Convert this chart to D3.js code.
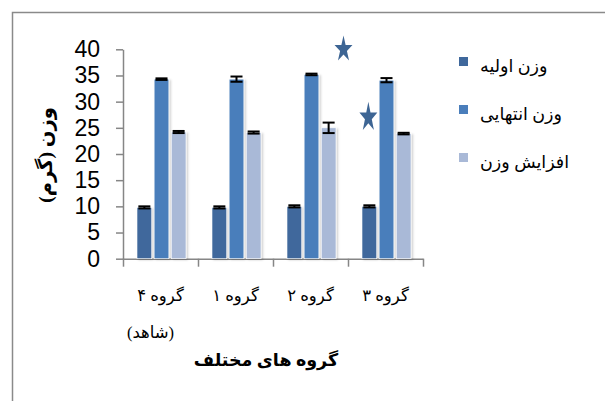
<!DOCTYPE html>
<html lang="fa">
  <head>
    <meta charset="utf-8">
    <script type="text/javascript" src="https://cdn.jsdelivr.net/npm/d3@7/dist/d3.min.js"></script>
    <style media="screen">
      body{
        margin:0;
        background:#fff;
      }
      .fa{
        font-family:"Times New Roman","DejaVu Sans",serif;
      }
      .num{
        font-family:"Liberation Sans",Arial,sans-serif;
      }
    </style>
  </head>
  <body>
    <svg id="chart"></svg>
  <script type="text/javascript">

    // data
    var categories = ['گروه ۴','گروه ۱','گروه ۲','گروه ۳'];
    var subLabels = ['(شاهد)','','',''];
    var seriesNames = ['وزن اولیه','وزن انتهایی','افزایش وزن'];
    var initialWeight = [9.8, 9.8, 10.0, 10.0];
    var finalWeight = [34.3, 34.3, 35.2, 34.1];
    var weightGain = [24.2, 24.1, 25.0, 23.9];
    var initialErr = [0.2, 0.2, 0.2, 0.2];
    var finalErr = [0.15, 0.5, 0.15, 0.4];
    var gainErr = [0.2, 0.2, 1.0, 0.15];
    var yTicks = [0,5,10,15,20,25,30,35,40];
    var starCats = ['گروه ۲','گروه ۳'];
    var starValues = [40, 27];

    var colors = ['#3F689C','#4A7EBB','#A9B9D7'];

    var svgwidth = 605;
    var svgheight = 401;

    var svg = d3.select('#chart')
                .attr('width',svgwidth)
                .attr('height',svgheight);

    var margins = {
      top:49.3,
      bottom:142.3,
      left:123,
      right:182
    };

    var height = svgheight - margins.top - margins.bottom;

    // frame of the chart area (runs off the right and bottom edges)
    svg.append('rect')
       .attr('x',12.5).attr('y',12.5)
       .attr('width',700).attr('height',500)
       .attr('fill','none')
       .attr('stroke','#8a8a8a')
       .attr('stroke-width',1.5);

    var defs = svg.append('defs');
    var shadow = defs.append('filter').attr('id','shadow')
                     .attr('x','-30%').attr('y','-10%')
                     .attr('width','160%').attr('height','120%');
    shadow.append('feDropShadow')
          .attr('dx',1.5).attr('dy',1)
          .attr('stdDeviation',1.2)
          .attr('flood-color','#000')
          .attr('flood-opacity',0.22);

    var x = d3.scaleBand()
              .domain(categories)
              .range([margins.left, svgwidth - margins.right])
              .padding(0);

    var x1 = d3.scaleBand()
               .domain(seriesNames)
               .range([14, 63])
               .paddingInner(0.14);

    var y = d3.scaleLinear()
              .domain([0,40])
              .range([margins.top + height, margins.top]);

    var rows = categories.map(function(c,i){
      return [
        {cat:c, s:seriesNames[0], v:initialWeight[i], e:initialErr[i], k:0},
        {cat:c, s:seriesNames[1], v:finalWeight[i], e:finalErr[i], k:1},
        {cat:c, s:seriesNames[2], v:weightGain[i], e:gainErr[i], k:2}
      ];
    });
    var flat = d3.merge(rows);

    // y axis
    var yAxis = d3.axisLeft(y)
                  .tickValues(yTicks)
                  .tickSize(7)
                  .tickSizeOuter(0)
                  .tickPadding(16);

    var yg = svg.append('g')
       .attr('transform','translate('+margins.left+',0)')
       .call(yAxis);
    yg.selectAll('text')
      .classed('num',true)
      .attr('font-size',23)
      .attr('fill','#000');
    yg.selectAll('line, path').attr('stroke','#868686').attr('stroke-width',1.5);

    // x axis: ticks between categories
    var xb = d3.scaleLinear().domain([0,categories.length])
               .range([margins.left, svgwidth - margins.right]);
    var xg = svg.append('g')
       .attr('transform','translate(0,'+(margins.top+height)+')')
       .call(d3.axisBottom(xb).ticks(categories.length).tickSize(8).tickSizeOuter(0).tickFormat(''));
    xg.selectAll('line, path').attr('stroke','#868686').attr('stroke-width',1.5);

    // bars
    var plot = svg.append('g').classed('plot',true);

    plot.selectAll('.bar')
        .data(flat)
        .enter()
        .append('rect')
        .classed('bar',true)
        .attr('x',function(d){ return x(d.cat) + x1(d.s); })
        .attr('y',function(d){ return y(d.v); })
        .attr('width',x1.bandwidth())
        .attr('height',function(d){ return y(0) - y(d.v); })
        .attr('fill',function(d){ return colors[d.k]; })
        .attr('stroke','#fff')
        .attr('stroke-width',0.6)
        .attr('filter','url(#shadow)');

    // error bars
    var capW = 12;
    var err = plot.selectAll('.err')
        .data(flat)
        .enter()
        .append('g')
        .classed('err',true)
        .attr('stroke','#000')
        .attr('stroke-width',2);

    err.append('line')
       .attr('x1',function(d){ return x(d.cat) + x1(d.s) + x1.bandwidth()/2; })
       .attr('x2',function(d){ return x(d.cat) + x1(d.s) + x1.bandwidth()/2; })
       .attr('y1',function(d){ return y(d.v - d.e); })
       .attr('y2',function(d){ return y(d.v + d.e); });

    err.append('line')
       .attr('x1',function(d){ return x(d.cat) + x1(d.s) + x1.bandwidth()/2 - capW/2; })
       .attr('x2',function(d){ return x(d.cat) + x1(d.s) + x1.bandwidth()/2 + capW/2; })
       .attr('y1',function(d){ return y(d.v + d.e); })
       .attr('y2',function(d){ return y(d.v + d.e); });

    err.append('line')
       .attr('x1',function(d){ return x(d.cat) + x1(d.s) + x1.bandwidth()/2 - capW/2; })
       .attr('x2',function(d){ return x(d.cat) + x1(d.s) + x1.bandwidth()/2 + capW/2; })
       .attr('y1',function(d){ return y(d.v - d.e); })
       .attr('y2',function(d){ return y(d.v - d.e); });

    // significance stars
    var star = d3.symbol().type(d3.symbolStar).size(100);
    var starX = [
      x(starCats[0]) + x.bandwidth()*0.94,
      x(starCats[1]) + x1(seriesNames[0]) + x1.bandwidth()/2 - 1
    ];
    var starStretch = [1.46, 1.65];
    plot.selectAll('.star')
        .data(starValues)
        .enter()
        .append('path')
        .classed('star',true)
        .attr('d',star)
        .attr('fill','#3D6594')
        .attr('transform',function(d,i){
          return 'translate('+starX[i]+','+y(d)+') scale(1,'+starStretch[i]+')';
        });

    // category labels
    var labels = svg.append('g').classed('fa',true);
    labels.selectAll('.cat')
          .data(categories)
          .enter()
          .append('text')
          .classed('cat',true)
          .attr('x',function(d){ return x(d) + x.bandwidth()/2; })
          .attr('y',301)
          .attr('text-anchor','middle')
          .attr('font-size',16.5)
          .text(function(d){ return d; });

    labels.selectAll('.sub')
          .data(subLabels)
          .enter()
          .append('text')
          .classed('sub',true)
          .attr('x',function(d,i){ return x(categories[i]) + x.bandwidth()/2 - 10; })
          .attr('y',338)
          .attr('text-anchor','middle')
          .attr('font-size',16.5)
          .text(function(d){ return d; });

    // axis titles
    svg.append('text')
       .classed('fa',true)
       .attr('x',266)
       .attr('y',366)
       .attr('text-anchor','middle')
       .attr('font-size',17.5)
       .attr('font-weight','bold')
       .text('گروه های مختلف');

    svg.append('text')
       .classed('fa',true)
       .attr('transform','translate(48,155) rotate(-90)')
       .attr('text-anchor','middle')
       .attr('dominant-baseline','middle')
       .attr('font-size',19.5)
       .attr('font-weight','bold')
       .text('وزن (گرم)');

    // legend
    var legend = svg.append('g').classed('fa',true)
                    .selectAll('.leg')
                    .data(seriesNames)
                    .enter()
                    .append('g')
                    .classed('leg',true)
                    .attr('transform',function(d,i){ return 'translate(459,'+(57 + i*48)+')'; });

    legend.append('rect')
          .attr('width',9)
          .attr('height',9)
          .attr('fill',function(d,i){ return colors[i]; });

    legend.append('text')
          .attr('x',21)
          .attr('y',15)
          .attr('font-size',17.5)
          .text(function(d){ return d; });

  </script>
  </body>
</html>
